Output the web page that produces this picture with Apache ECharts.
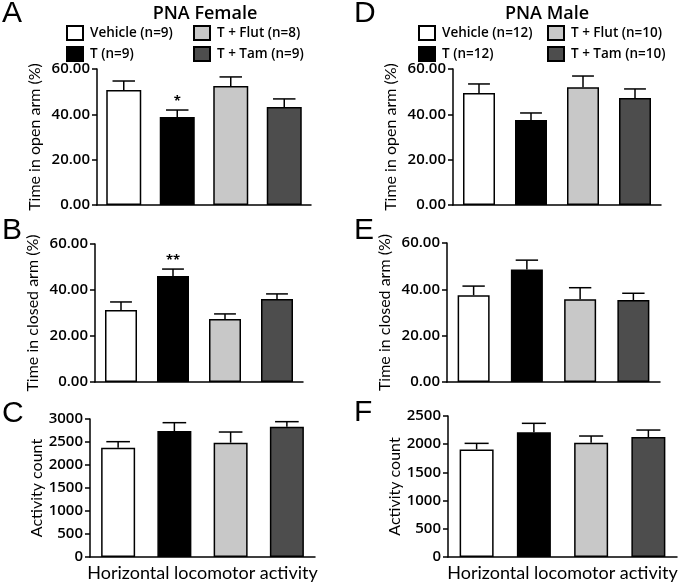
<!DOCTYPE html>
<html><head><meta charset="utf-8">
<script src="https://cdn.jsdelivr.net/npm/echarts@6/dist/echarts.min.js"></script>
<style>html,body{margin:0;padding:0;background:#fff}#c{width:680px;height:585px}</style>
</head><body><div id="c"></div>
<script>
// ---- data ----
const categories = ['Vehicle', 'T', 'T + Flut', 'T + Tam'];
const femaleLegend = ['Vehicle (n=9)', 'T (n=9)', 'T + Flut (n=8)', 'T + Tam (n=9)'];
const maleLegend = ['Vehicle (n=12)', 'T (n=12)', 'T + Flut (n=10)', 'T + Tam (n=10)'];

const openArmFemale = [50.7, 38.8, 52.5, 43.2];
const openArmFemaleSem = [4.0, 3.1, 4.0, 3.6];
const closedArmFemale = [31.3, 46.1, 27.4, 36.1];
const closedArmFemaleSem = [3.5, 3.0, 2.2, 2.2];
const activityFemale = [2376, 2739, 2485, 2833];
const activityFemaleSem = [131, 181, 232, 109];

const openArmMale = [49.4, 37.5, 52.0, 47.2];
const openArmMaleSem = [4.0, 3.1, 4.9, 4.0];
const closedArmMale = [37.5, 48.6, 35.7, 35.4];
const closedArmMaleSem = [3.9, 4.0, 5.0, 2.9];
const activityMale = [1908, 2210, 2026, 2127];
const activityMaleSem = [107, 160, 119, 124];

const openArmFemaleMarks = ['', '*', '', ''];
const closedArmFemaleMarks = ['', '**', '', ''];
const noMarks = ['', '', '', ''];

const percentTicks = { min: 0, max: 60, interval: 20 };
const activityFemaleTicks = { min: 0, max: 3000, interval: 500 };
const activityMaleTicks = { min: 0, max: 2500, interval: 500 };

// ---- styling ----
const FONT = 'Open Sans';
const NAMEFONT = 'Lato';
const barColors = ['#ffffff', '#000000', '#c8c8c8', '#4d4d4d'];

const panels = [
  { letter: 'A', grid: { left: 97, top: 69, width: 214, height: 136 }, mean: openArmFemale, sem: openArmFemaleSem, marks: openArmFemaleMarks, names: femaleLegend, ticks: percentTicks, yName: 'Time in open arm (%)', fmt: 2, barW: 35, xName: '' },
  { letter: 'B', grid: { left: 95, top: 244, width: 208, height: 138 }, mean: closedArmFemale, sem: closedArmFemaleSem, marks: closedArmFemaleMarks, names: femaleLegend, ticks: percentTicks, yName: 'Time in closed arm (%)', fmt: 2, barW: 32, xName: '' },
  { letter: 'C', grid: { left: 90, top: 419, width: 225, height: 138 }, mean: activityFemale, sem: activityFemaleSem, marks: noMarks, names: femaleLegend, ticks: activityFemaleTicks, yName: 'Activity count', fmt: 0, barW: 34, xName: 'Horizontal locomotor activity' },
  { letter: 'D', grid: { left: 453, top: 69, width: 208, height: 136 }, mean: openArmMale, sem: openArmMaleSem, marks: noMarks, names: maleLegend, ticks: percentTicks, yName: 'Time in open arm (%)', fmt: 2, barW: 32, xName: '' },
  { letter: 'E', grid: { left: 447, top: 243, width: 213, height: 139 }, mean: closedArmMale, sem: closedArmMaleSem, marks: noMarks, names: maleLegend, ticks: percentTicks, yName: 'Time in closed arm (%)', fmt: 2, barW: 32, xName: '' },
  { letter: 'F', grid: { left: 448, top: 416, width: 229, height: 141 }, mean: activityMale, sem: activityMaleSem, marks: noMarks, names: maleLegend, ticks: activityMaleTicks, yName: 'Activity count', fmt: 0, barW: 34, xName: 'Horizontal locomotor activity' }
];
const letterPos = { A: [2, -1], B: [2, 216], C: [2, 399], D: [354, -1], E: [354, 216], F: [354, 398] };

const grids = [], xAxes = [], yAxes = [], series = [];
panels.forEach((p, i) => {
  grids.push(p.grid);
  xAxes.push({
    type: 'category', gridIndex: i, data: categories,
    axisLine: { lineStyle: { color: '#000', width: 1.5 } },
    axisTick: { show: false }, axisLabel: { show: false },
    name: p.xName, nameLocation: 'middle', nameGap: 7,
    nameTextStyle: { color: '#000', fontFamily: NAMEFONT, fontSize: 18, verticalAlign: 'top' }
  });
  yAxes.push({
    type: 'value', gridIndex: i, min: p.ticks.min, max: p.ticks.max, interval: p.ticks.interval,
    splitLine: { show: false },
    axisLine: { show: true, lineStyle: { color: '#000', width: 1.5 } },
    axisTick: { show: true, length: 5, lineStyle: { color: '#000', width: 1.5 } },
    axisLabel: { color: '#000', fontFamily: FONT, fontSize: 15, fontWeight: 600, margin: 7,
      formatter: v => v.toFixed(p.fmt) },
    name: p.yName, nameLocation: 'middle', nameGap: p.fmt ? 54 : 44,
    nameTextStyle: { color: '#000', fontFamily: NAMEFONT, fontSize: 16 }
  });
  categories.forEach((c, g) => {
    series.push({
      type: 'bar', name: p.names[g], xAxisIndex: i, yAxisIndex: i,
      data: categories.map((cc, k) => (k === g ? p.mean[k] : '-')),
      barWidth: p.barW, barGap: '-100%',
      itemStyle: { color: barColors[g], borderColor: '#000', borderWidth: 1.5 },
      emphasis: { disabled: true }, silent: true, z: 2
    });
  });
  series.push({
    type: 'custom', xAxisIndex: i, yAxisIndex: i, silent: true, z: 3,
    data: categories.map((c, k) => [k, p.mean[k], p.mean[k] + p.sem[k]]),
    renderItem: (params, api) => {
      const k = api.value(0);
      const base = api.coord([k, api.value(1)]);
      const top = api.coord([k, api.value(2)]);
      const cap = api.size([1, 0])[0] * 0.21;
      const children = [
        { type: 'line', shape: { x1: base[0], y1: base[1], x2: top[0], y2: top[1] }, style: { stroke: '#000', lineWidth: 1.5 } },
        { type: 'line', shape: { x1: top[0] - cap, y1: top[1], x2: top[0] + cap, y2: top[1] }, style: { stroke: '#000', lineWidth: 1.5 } }
      ];
      const m = p.marks[params.dataIndex];
      if (m) {
        children.push({ type: 'text', style: { text: m, x: top[0], y: top[1] - 2, align: 'center', verticalAlign: 'bottom', fill: '#000', font: 'bold 13px ' + FONT } });
      }
      return { type: 'group', children };
    }
  });
});

const titles = [
  { text: 'PNA Female', left: 200, top: 0, textAlign: 'center', textStyle: { fontFamily: FONT, fontSize: 18, fontWeight: 600, color: '#000' } },
  { text: 'PNA Male', left: 542, top: 0, textAlign: 'center', textStyle: { fontFamily: FONT, fontSize: 18, fontWeight: 600, color: '#000' } }
];
Object.keys(letterPos).forEach(L => {
  titles.push({ text: L, left: letterPos[L][0], top: letterPos[L][1], padding: 0,
    textStyle: { fontFamily: 'Liberation Sans', fontSize: 30, fontWeight: 'normal', color: '#000' } });
});

function mkLegend(names, left) {
  return { data: names, orient: 'vertical', left, top: 25, padding: 0, itemWidth: 16, itemHeight: 14, itemGap: 5,
    icon: 'rect', selectedMode: false,
    textStyle: { fontFamily: FONT, fontSize: 13.5, fontWeight: 600, color: '#000', padding: [0, 0, 0, 2] } };
}
const legends = [
  mkLegend([femaleLegend[0], femaleLegend[1]], 66),
  mkLegend([femaleLegend[2], femaleLegend[3]], 193),
  mkLegend([maleLegend[0], maleLegend[1]], 418),
  mkLegend([maleLegend[2], maleLegend[3]], 547)
];

const chart = echarts.init(document.getElementById('c'), null, { renderer: 'canvas' });
chart.setOption({
  animation: false,
  backgroundColor: '#fff',
  title: titles,
  legend: legends,
  grid: grids,
  xAxis: xAxes,
  yAxis: yAxes,
  series
});
</script>
</body></html>
